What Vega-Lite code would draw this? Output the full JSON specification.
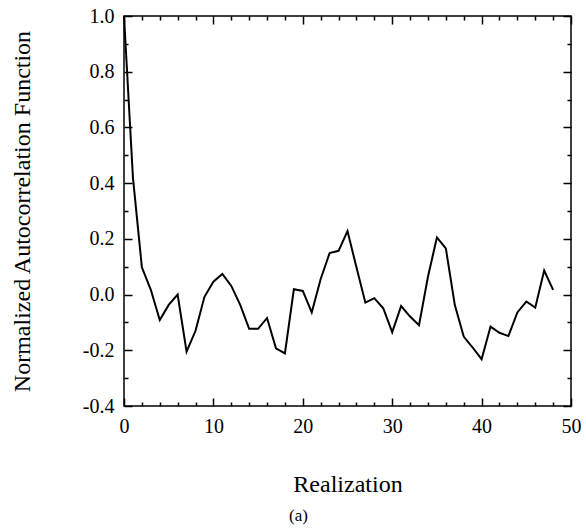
{
  "$schema": "https://vega.github.io/schema/vega-lite/v6.json",
  "autosize": {"type": "none"},
  "padding": {"left": 124, "top": 16, "right": 15, "bottom": 123},
  "width": 447,
  "height": 390,
  "background": "white",
  "title": {"text": "(a)", "orient": "bottom", "anchor": "middle", "dx": -49, "offset": 12, "font": "Liberation Serif", "fontSize": 17, "fontWeight": "normal", "color": "black"},
  "config": {
    "view": {"stroke": "black", "strokeWidth": 1.5},
    "axis": {"grid": false, "domain": false, "tickColor": "black", "tickWidth": 1.5, "labelFont": "Liberation Serif", "labelFontSize": 20, "labelColor": "black", "titleFont": "Liberation Serif", "titleFontSize": 24, "titleFontWeight": "normal", "titleColor": "black"}
  },
  "data": {"values": [
    {"lag": 0, "r": 1.0}, {"lag": 1, "r": 0.42}, {"lag": 2, "r": 0.098}, {"lag": 3, "r": 0.017},
    {"lag": 4, "r": -0.091}, {"lag": 5, "r": -0.037}, {"lag": 6, "r": 0.0}, {"lag": 7, "r": -0.205},
    {"lag": 8, "r": -0.13}, {"lag": 9, "r": -0.008}, {"lag": 10, "r": 0.046}, {"lag": 11, "r": 0.074},
    {"lag": 12, "r": 0.031}, {"lag": 13, "r": -0.037}, {"lag": 14, "r": -0.123}, {"lag": 15, "r": -0.123},
    {"lag": 16, "r": -0.084}, {"lag": 17, "r": -0.193}, {"lag": 18, "r": -0.211}, {"lag": 19, "r": 0.019},
    {"lag": 20, "r": 0.013}, {"lag": 21, "r": -0.064}, {"lag": 22, "r": 0.056}, {"lag": 23, "r": 0.149},
    {"lag": 24, "r": 0.157}, {"lag": 25, "r": 0.228}, {"lag": 26, "r": 0.098}, {"lag": 27, "r": -0.029},
    {"lag": 28, "r": -0.013}, {"lag": 29, "r": -0.049}, {"lag": 30, "r": -0.135}, {"lag": 31, "r": -0.041},
    {"lag": 32, "r": -0.079}, {"lag": 33, "r": -0.11}, {"lag": 34, "r": 0.064}, {"lag": 35, "r": 0.205},
    {"lag": 36, "r": 0.166}, {"lag": 37, "r": -0.037}, {"lag": 38, "r": -0.151}, {"lag": 39, "r": -0.19},
    {"lag": 40, "r": -0.232}, {"lag": 41, "r": -0.115}, {"lag": 42, "r": -0.137}, {"lag": 43, "r": -0.149},
    {"lag": 44, "r": -0.064}, {"lag": 45, "r": -0.025}, {"lag": 46, "r": -0.047}, {"lag": 47, "r": 0.086},
    {"lag": 48, "r": 0.017}
  ]},
  "resolve": {"axis": {"x": "independent", "y": "independent"}},
  "layer": [
    {
      "mark": {"type": "line", "color": "black", "strokeWidth": 2},
      "encoding": {
        "x": {"field": "lag", "type": "quantitative", "scale": {"domain": [0, 50], "nice": false, "zero": false},
              "axis": {"orient": "bottom", "offset": -8, "values": [0, 10, 20, 30, 40, 50], "tickSize": 8, "labelPadding": 10, "labelDx": 7, "title": "Realization", "titlePadding": 36, "labelFlush": false}},
        "y": {"field": "r", "type": "quantitative", "scale": {"domain": [-0.4, 1.0], "nice": false, "zero": false},
              "axis": {"orient": "left", "offset": -8, "values": [-0.4, -0.2, 0, 0.2, 0.4, 0.6, 0.8, 1.0], "labelExpr": "replace(format(datum.value, '.1f'), '\u2212', '-')", "tickSize": 8, "labelPadding": 10, "title": "Normalized Autocorrelation Function", "titlePadding": 48, "labelFlush": false}}
      }
    },
    {
      "mark": {"type": "line", "opacity": 0},
      "encoding": {
        "x": {"field": "lag", "type": "quantitative",
              "axis": {"orient": "bottom", "offset": -4, "values": [2, 4, 6, 8, 12, 14, 16, 18, 22, 24, 26, 28, 32, 34, 36, 38, 42, 44, 46, 48], "tickSize": 4, "labels": false, "title": null}},
        "y": {"field": "r", "type": "quantitative",
              "axis": {"orient": "left", "offset": -4, "values": [-0.3, -0.1, 0.1, 0.3, 0.5, 0.7, 0.9], "tickSize": 4, "labels": false, "title": null}}
      }
    },
    {
      "mark": {"type": "line", "opacity": 0},
      "encoding": {
        "x": {"field": "lag", "type": "quantitative",
              "axis": {"orient": "top", "offset": -8, "values": [0, 10, 20, 30, 40, 50], "tickSize": 8, "labels": false, "title": null}},
        "y": {"field": "r", "type": "quantitative",
              "axis": {"orient": "right", "offset": -8, "values": [-0.4, -0.2, 0, 0.2, 0.4, 0.6, 0.8, 1.0], "tickSize": 8, "labels": false, "title": null}}
      }
    },
    {
      "mark": {"type": "line", "opacity": 0},
      "encoding": {
        "x": {"field": "lag", "type": "quantitative",
              "axis": {"orient": "top", "offset": -4, "values": [2, 4, 6, 8, 12, 14, 16, 18, 22, 24, 26, 28, 32, 34, 36, 38, 42, 44, 46, 48], "tickSize": 4, "labels": false, "title": null}},
        "y": {"field": "r", "type": "quantitative",
              "axis": {"orient": "right", "offset": -4, "values": [-0.3, -0.1, 0.1, 0.3, 0.5, 0.7, 0.9], "tickSize": 4, "labels": false, "title": null}}
      }
    }
  ]
}
